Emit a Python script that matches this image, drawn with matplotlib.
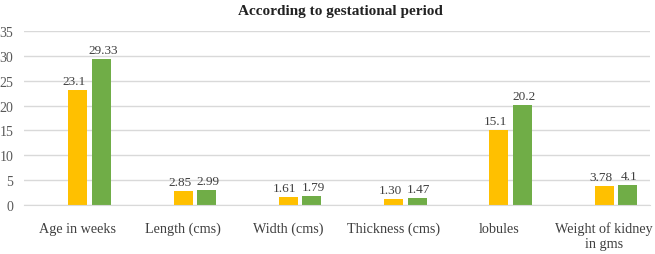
import numpy as np
import matplotlib.pyplot as plt

categories = ['Age in weeks', 'Length (cms)', 'Width (cms)', 'Thickness (cms)',
              'lobules', 'Weight of kidney\nin gms']
series_a = [23.1, 2.85, 1.61, 1.30, 15.1, 3.78]
series_b = [29.33, 2.99, 1.79, 1.47, 20.2, 4.1]
labels_a = ['23.1', '2.85', '1.61', '1.30', '15.1', '3.78']
labels_b = ['29.33', '2.99', '1.79', '1.47', '20.2', '4.1']
yticks = [0, 5, 10, 15, 20, 25, 30, 35]

plt.rcParams['font.family'] = ['Liberation Serif', 'DejaVu Serif']

fig = plt.figure(figsize=(6.55, 2.55), dpi=100)
ax = fig.add_axes([0.037, 0.192, 0.956, 0.683])

x = np.arange(len(categories))
w = 0.18
bars_a = ax.bar(x, series_a, w, color='#FFC000')
bars_b = ax.bar(x + 0.224, series_b, w, color='#70AD47')

# yellow labels sit a little to the left, like the original
for b, t in zip(bars_a, labels_a):
    ax.annotate(t, (b.get_x() + b.get_width() / 2, b.get_height()),
                xytext=(-2.5, 2), textcoords='offset points',
                ha='center', va='bottom', fontsize=9.5, color='#404040')
for b, t in zip(bars_b, labels_b):
    ax.annotate(t, (b.get_x() + b.get_width() / 2, b.get_height()),
                xytext=(1, 2), textcoords='offset points',
                ha='center', va='bottom', fontsize=9.5, color='#404040')

ax.set_xlim(-0.51, 5.44)
ax.set_ylim(0, 35)
ax.set_yticks(yticks)
ax.set_xticks(x)
ax.set_xticklabels(categories, fontsize=10.2, color='#404040', linespacing=1.2)
ax.tick_params(axis='y', labelsize=10, labelcolor='#595959', length=0, pad=8)
ax.tick_params(axis='x', length=0, pad=12)

ax.yaxis.grid(True, color='#D9D9D9', linewidth=1)
ax.set_axisbelow(True)
for s in ['top', 'right', 'left']:
    ax.spines[s].set_visible(False)
ax.spines['bottom'].set_color('#D9D9D9')

fig.text(0.519, 0.953, 'According to gestational period', ha='center', va='center',
         fontsize=11, fontweight='bold', color='#222222')

plt.savefig('out.png', dpi=100)
